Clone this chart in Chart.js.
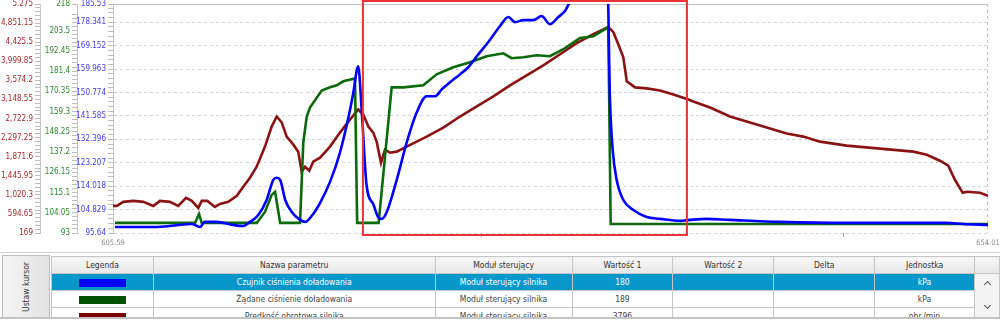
<!DOCTYPE html>
<html><head><meta charset="utf-8">
<script src="https://cdn.jsdelivr.net/npm/chart.js@4.4.0/dist/chart.umd.min.js"></script>
<style>
html,body{margin:0;padding:0;background:#fff;}
#wrap{position:relative;width:1000px;height:320px;overflow:hidden;font-family:"DejaVu Sans Condensed","DejaVu Sans",sans-serif;}
#c{position:absolute;left:0;top:0;}
#lower{position:absolute;left:0;top:252px;width:1000px;height:67px;overflow:hidden;border-top:1px solid #cfcfcf;border-bottom:2px solid #c4c4c4;box-sizing:border-box;}
#btn{position:absolute;left:2px;top:2px;width:48px;height:64px;box-sizing:border-box;border:1px solid #bdbdbd;background:linear-gradient(to right,#f5f5f5,#e3e3e3);}
#btn span{position:absolute;left:50%;top:50%;transform:translate(-50%,-50%) rotate(-90deg);white-space:nowrap;font-size:8.5px;color:#333;}
table{position:absolute;left:51px;top:3px;border-collapse:collapse;table-layout:fixed;font-size:8.5px;color:#444;}
td,th{border:1px solid #c6c6c6;height:16px;padding:0;text-align:center;white-space:nowrap;overflow:hidden;font-weight:normal;}
th{background:linear-gradient(#f8f8f8,#e7e7e7);color:#333;}
tr.sel td.c{background:#0897cb;color:#fff;}
.sw{display:inline-block;width:47px;height:8px;vertical-align:middle;}
td.scr{background:#f4f4f4;position:relative;vertical-align:top;}
.chev{position:absolute;left:10px;width:4px;height:4px;border-left:1px solid #555;border-top:1px solid #555;}
</style></head>
<body>
<div id="wrap">
  <canvas id="c" width="1000" height="252"></canvas>
  <div id="lower">
    <div id="btn"><span>Ustaw kursor</span></div>
    <table id="grid"></table>
  </div>
</div>
<script>
// ---------- data ----------
const xRange = [605.59, 654.01];
const xTickValues = [605.59, 626, 646, 654.01];
const xTickLabels = ['605.59', '', '', '654.01'];
const selectionRange = [619.42, 637.35];

const blueTicks = [95.64, 104.829, 114.018, 123.207, 132.396, 141.585, 150.774, 159.963, 169.152, 178.341, 185.53];
const blueTickLabels = ['95.64','104.829','114.018','123.207','132.396','141.585','150.774','159.963','169.152','178.341','185.53'];
const greenTicks = [93, 104.05, 115.1, 126.15, 137.2, 148.25, 159.3, 170.35, 181.4, 192.45, 203.5, 218];
const greenTickLabels = ['93','104.05','115.1','126.15','137.2','148.25','159.3','170.35','181.4','192.45','203.5','218'];
const redTicks = [169, 594.65, 1020.3, 1445.95, 1871.6, 2297.25, 2722.9, 3148.55, 3574.2, 3999.85, 4425.5, 4851.15, 5275];
const redTickLabels = ['169','594.65','1,020.3','1,445.95','1,871.6','2,297.25','2,722.9','3,148.55','3,574.2','3,999.85','4,425.5','4,851.15','5.275'];

const blueT = [605.70, 607.82, 608.74, 609.20, 609.95, 610.40, 610.67, 611.32, 612.24, 612.80, 613.17, 613.63, 614.09, 614.46, 614.65, 614.84, 615.12, 615.48, 615.94, 616.22, 616.58, 617.05, 617.60, 618.15, 618.71, 618.89, 619.16, 619.35, 619.62, 619.99, 620.29, 620.46, 620.74, 621.29, 621.84, 622.40, 622.95, 623.41, 623.78, 624.24, 624.79, 625.25, 625.72, 626.36, 627.01, 627.47, 627.84, 628.30, 628.85, 629.31, 629.77, 630.23, 630.60, 630.88, 631.50, 632.30, 632.95, 633.09, 633.24, 633.46, 633.83, 634.39, 635.12, 635.86, 636.97, 637.52, 638.44, 639.73, 642.50, 646.19, 651.72, 652.64, 654.01];
const blueV = [98.0, 98.0, 98.4, 98.8, 99.2, 98.0, 100.0, 100.0, 98.8, 98.4, 100.0, 102.7, 108.6, 116.5, 117.3, 116.5, 108.6, 103.9, 100.8, 100.0, 102.3, 107.5, 115.7, 127.2, 144.1, 150.8, 161.1, 144.1, 114.5, 107.0, 101.6, 101.2, 103.9, 116.5, 131.1, 143.0, 149.3, 149.3, 152.0, 154.8, 157.9, 160.7, 165.0, 170.6, 176.9, 180.4, 178.4, 179.2, 179.2, 180.8, 177.6, 180.4, 182.8, 186.3, 190.0, 193.0, 194.0, 148.1, 128.4, 116.5, 108.6, 104.7, 101.9, 101.2, 100.4, 100.8, 101.2, 100.8, 100.0, 99.6, 99.6, 99.2, 98.8];

const greenT = [605.70, 610.13, 610.35, 610.50, 613.54, 614.00, 614.37, 614.56, 614.84, 615.94, 616.12, 616.31, 616.49, 617.14, 617.60, 617.97, 618.34, 618.98, 619.10, 620.29, 621.01, 621.66, 622.76, 623.50, 624.42, 625.35, 626.27, 627.19, 627.65, 628.30, 629.04, 629.77, 630.51, 631.43, 632.17, 633.00, 633.13, 654.01];
const greenV = [98.5, 98.5, 103.4, 98.5, 98.5, 104.5, 113.8, 115.5, 98.5, 98.5, 142.3, 156.6, 161.5, 170.8, 172.5, 173.6, 175.8, 177.4, 98.5, 98.5, 172.5, 172.5, 173.6, 179.6, 183.5, 186.2, 189.5, 191.1, 188.4, 188.9, 190.0, 189.5, 193.3, 199.4, 200.4, 205.4, 97.9, 97.9];

const redT = [605.59, 605.80, 606.16, 606.71, 607.27, 607.82, 608.19, 608.74, 609.20, 609.63, 609.95, 610.31, 610.50, 610.81, 611.23, 611.51, 611.97, 612.44, 612.80, 613.17, 613.54, 614.00, 614.37, 614.65, 614.93, 615.20, 615.57, 615.84, 616.03, 616.22, 616.45, 616.67, 617.05, 617.60, 618.15, 618.71, 619.16, 619.44, 619.72, 619.99, 620.18, 620.42, 620.64, 620.92, 621.29, 621.84, 622.95, 623.87, 624.79, 625.72, 626.64, 627.56, 628.48, 629.40, 630.33, 631.25, 632.17, 633.00, 633.28, 633.55, 633.83, 634.02, 634.48, 635.12, 635.86, 636.60, 637.43, 637.70, 638.63, 639.73, 641.21, 642.50, 642.87, 643.79, 644.71, 646.19, 648.03, 649.88, 650.62, 651.35, 651.81, 652.18, 652.61, 652.83, 653.57, 654.01];
const redV = [773, 773, 863, 885, 863, 773, 885, 863, 773, 953, 885, 729, 885, 885, 751, 818, 863, 997, 1199, 1400, 1647, 2095, 2542, 2766, 2632, 2318, 2139, 1983, 1535, 1647, 1557, 1759, 1848, 2095, 2408, 2699, 2923, 2811, 2542, 2408, 2206, 1736, 2027, 1960, 1983, 2095, 2318, 2520, 2766, 2990, 3214, 3460, 3684, 3908, 4154, 4401, 4602, 4759, 4647, 4378, 4087, 3550, 3416, 3393, 3348, 3259, 3147, 3102, 2968, 2766, 2587, 2430, 2386, 2318, 2206, 2117, 2050, 1983, 1915, 1781, 1669, 1356, 1065, 1087, 1065, 997];

const tableHeaders = ['Legenda', 'Nazwa parametru', 'Moduł sterujący', 'Wartość 1', 'Wartość 2', 'Delta', 'Jednostka'];
const paramNames = ['Czujnik ciśnienia doładowania', 'Żądane ciśnienie doładowania', 'Prędkość obrotowa silnika'];
const moduleNames = ['Moduł sterujący silnika', 'Moduł sterujący silnika', 'Moduł sterujący silnika'];
const value1 = ['180', '189', '3796'];
const value2 = ['', '', ''];
const deltas = ['', '', ''];
const units = ['kPa', 'kPa', 'obr./min'];

// ---------- styles ----------
const FONT = '"DejaVu Sans Condensed","DejaVu Sans",sans-serif';
const lineColors = ['#0000ff', '#0b6a0b', '#8b1313'];
const swatchColors = ['#0000ff', '#005200', '#7d0000'];
const colWidths = [102, 282, 137, 101, 101, 101, 100, 25];

// ---------- table ----------
(function buildTable(){
  const t = document.getElementById('grid');
  let h = '<colgroup>' + colWidths.map(w => `<col style="width:${w}px">`).join('') + '</colgroup>';
  h += '<tr>' + tableHeaders.map(s => `<th>${s}</th>`).join('') + '<th></th></tr>';
  for (let i = 0; i < paramNames.length; i++) {
    h += `<tr class="${i === 0 ? 'sel' : ''}">` +
      `<td class="c"><span class="sw" style="background:${swatchColors[i]}"></span></td>` +
      `<td class="c">${paramNames[i]}</td><td class="c">${moduleNames[i]}</td>` +
      `<td class="c">${value1[i]}</td><td class="c">${value2[i]}</td><td class="c">${deltas[i]}</td><td class="c">${units[i]}</td>` +
      (i === 0 ? `<td class="scr" rowspan="3"><div class="chev" style="top:8px;transform:rotate(45deg)"></div><div class="chev" style="top:29px;transform:rotate(225deg)"></div></td>` : '') +
      '</tr>';
  }
  t.innerHTML = h;
})();

// ---------- chart ----------
const zip = (xs, ys) => xs.map((x, i) => ({x, y: ys[i]}));

function yAxis(majors, labels, min, max, color, width, weight, onChart) {
  const step = majors[1] - majors[0];
  return {
    type: 'linear', position: 'left', weight, min, max,
    afterBuildTicks(s) {
      const t = [];
      for (let i = 0; i < majors.length; i++) {
        t.push({value: majors[i], major: true});
        if (i < majors.length - 1) {
          for (let k = 1; k < 5; k++) {
            const m = majors[i] + k * step / 5;
            if (m < majors[i + 1] - step * 0.05) t.push({value: m, major: false});
          }
        }
      }
      s.ticks = t;
    },
    afterFit(s) { s.width = width; s.paddingTop = 0; s.paddingBottom = 0; },
    ticks: {
      autoSkip: false, color, padding: 2, font: {family: FONT, size: 8},
      callback: (v) => { const i = majors.findIndex(m => Math.abs(m - v) < 1e-6); return i >= 0 ? labels[i] : ''; }
    },
    grid: {
      drawOnChartArea: onChart,
      color: onChart ? (c) => (c.tick && c.tick.major) ? '#d5d5d5' : 'rgba(0,0,0,0)' : '#c8c8c8',
      tickLength: 5, tickColor: '#bdbdbd', lineWidth: 1
    },
    border: {display: true, color: '#c4c4c4', dash: onChart ? [3, 3] : []}
  };
}

const framePlugin = {
  id: 'frame',
  beforeDatasetsDraw(chart) {
    const {ctx, chartArea: a} = chart;
    ctx.save();
    ctx.strokeStyle = '#c4c4c4'; ctx.lineWidth = 1;
    ctx.beginPath(); ctx.moveTo(a.left, a.top + 0.5); ctx.lineTo(a.right, a.top + 0.5); ctx.stroke();
    ctx.setLineDash([3, 3]);
    ctx.beginPath(); ctx.moveTo(a.right - 0.5, a.top); ctx.lineTo(a.right - 0.5, a.bottom); ctx.stroke();
    ctx.restore();
  },
  afterDatasetsDraw(chart) {
    const {ctx, chartArea: a, scales: {x}} = chart;
    const x1 = x.getPixelForValue(selectionRange[0]);
    const x2 = x.getPixelForValue(selectionRange[1]);
    ctx.save();
    ctx.strokeStyle = '#e83434'; ctx.lineWidth = 2;
    ctx.strokeRect(x1, a.top - 3, x2 - x1, a.bottom - a.top + 5);
    ctx.restore();
  }
};

new Chart(document.getElementById('c'), {
  type: 'line',
  data: {
    datasets: [
      {label: paramNames[0], data: zip(blueT, blueV), yAxisID: 'yBlue', borderColor: lineColors[0], borderWidth: 2.6, pointRadius: 0, cubicInterpolationMode: 'monotone'},
      {label: paramNames[1], data: zip(greenT, greenV), yAxisID: 'yGreen', borderColor: lineColors[1], borderWidth: 2.6, pointRadius: 0, tension: 0},
      {label: paramNames[2], data: zip(redT, redV), yAxisID: 'yRed', borderColor: lineColors[2], borderWidth: 2.6, pointRadius: 0, tension: 0}
    ]
  },
  options: {
    responsive: false, animation: false,
    layout: {padding: {left: 0, right: 12, top: 4, bottom: 0}},
    plugins: {legend: {display: false}, tooltip: {enabled: false}},
    scales: {
      x: {
        type: 'linear', min: xRange[0], max: xRange[1],
        afterBuildTicks(s) { s.ticks = xTickValues.map(v => ({value: v})); },
        afterFit(s) { s.height = 19; s.paddingLeft = 0; s.paddingRight = 0; },
        ticks: {autoSkip: false, maxRotation: 0, color: '#8a8a8a', padding: 2, font: {family: FONT, size: 7.5},
          callback: (v) => { const i = xTickValues.findIndex(m => Math.abs(m - v) < 1e-6); return i >= 0 ? xTickLabels[i] : ''; }},
        grid: {drawOnChartArea: false, tickLength: 4,
          tickColor: (c) => (c.index === 0 || c.index === xTickValues.length - 1) ? 'rgba(0,0,0,0)' : '#aaaaaa'},
        border: {display: false}
      },
      yRed: yAxis(redTicks, redTickLabels, 169, 5275, '#a82828', 40, 3, false),
      yGreen: yAxis(greenTicks, greenTickLabels, 93, 218, '#2b8a2b', 37, 2, false),
      yBlue: yAxis(blueTicks, blueTickLabels, 95.64, 185.53, '#3c3cff', 36, 1, true)
    }
  },
  plugins: [framePlugin]
});
</script>
</body></html>
